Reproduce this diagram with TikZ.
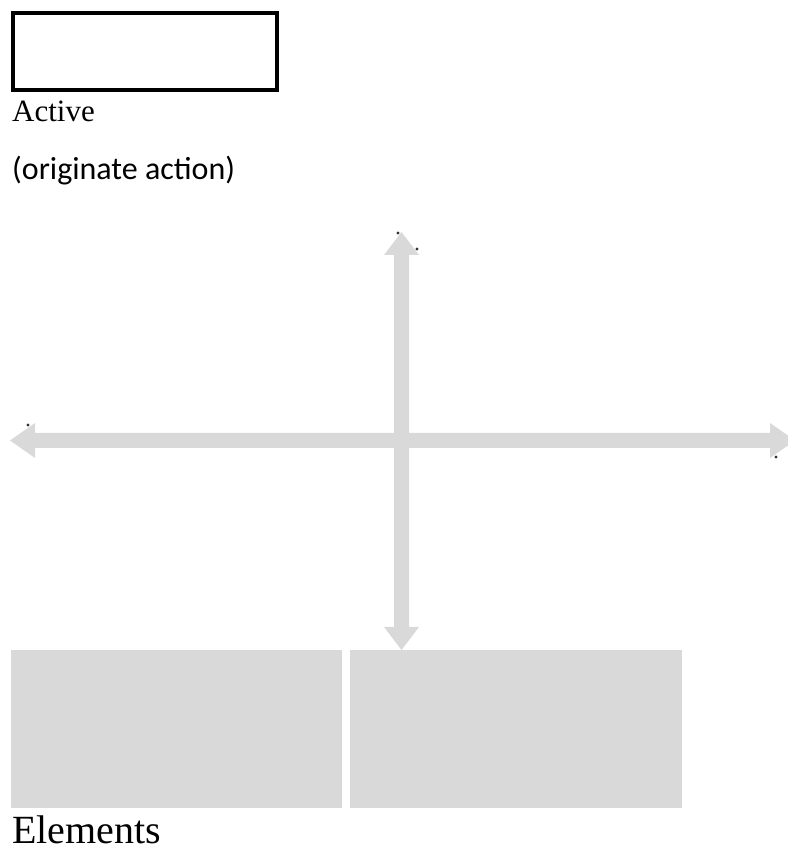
\documentclass[tikz,border=0pt]{standalone}
\usepackage{fontspec}
\setmainfont{Liberation Serif}
\newfontfamily\calfont{Carlito}
\definecolor{panel}{HTML}{D9D9D9}
\begin{document}
\begin{tikzpicture}[x=1pt,y=1pt,
  axis/.style={fill=panel,draw=none},
  cell/.style={fill=panel,draw=none},
  speck/.style={fill=black!80,draw=none}]
\useasboundingbox (0,0) rectangle (787,848);
% framed empty box
\draw[line width=4pt,black] (13,758) rectangle (277,835);
% labels
\node[anchor=base west,inner sep=0pt,font=\fontsize{31}{36}\selectfont] (active) at (12,726) {Active};
\node[anchor=base west,inner sep=0pt,font=\calfont\fontsize{32}{38}\selectfont] (orig) at (12,668) {(originate action)};
% vertical double arrow
\fill[axis] (401.5,616) -- (419,593) -- (409,593) -- (409,221) -- (419,221)
  -- (401.5,198) -- (384,221) -- (394,221) -- (394,593) -- (384,593) -- cycle;
% horizontal double arrow
\fill[axis] (10,407.5) -- (35,425) -- (35,415) -- (770,415) -- (770,425)
  -- (795,407.5) -- (770,390) -- (770,400) -- (35,400) -- (35,390) -- cycle;
% tiny specks at the arrow heads
\fill[speck] (398,615) circle (1.7);
\fill[speck] (417,599) circle (1.7);
\fill[speck] (28,423) circle (1.7);
\fill[speck] (776,391) circle (1.7);
% element panels
\fill[cell] (11,40) rectangle (342,198);
\fill[cell] (350,40) rectangle (682,198);
\node[anchor=base west,inner sep=0pt,font=\fontsize{40}{46}\selectfont] (elements) at (12,5) {Elements};
\end{tikzpicture}
\end{document}
